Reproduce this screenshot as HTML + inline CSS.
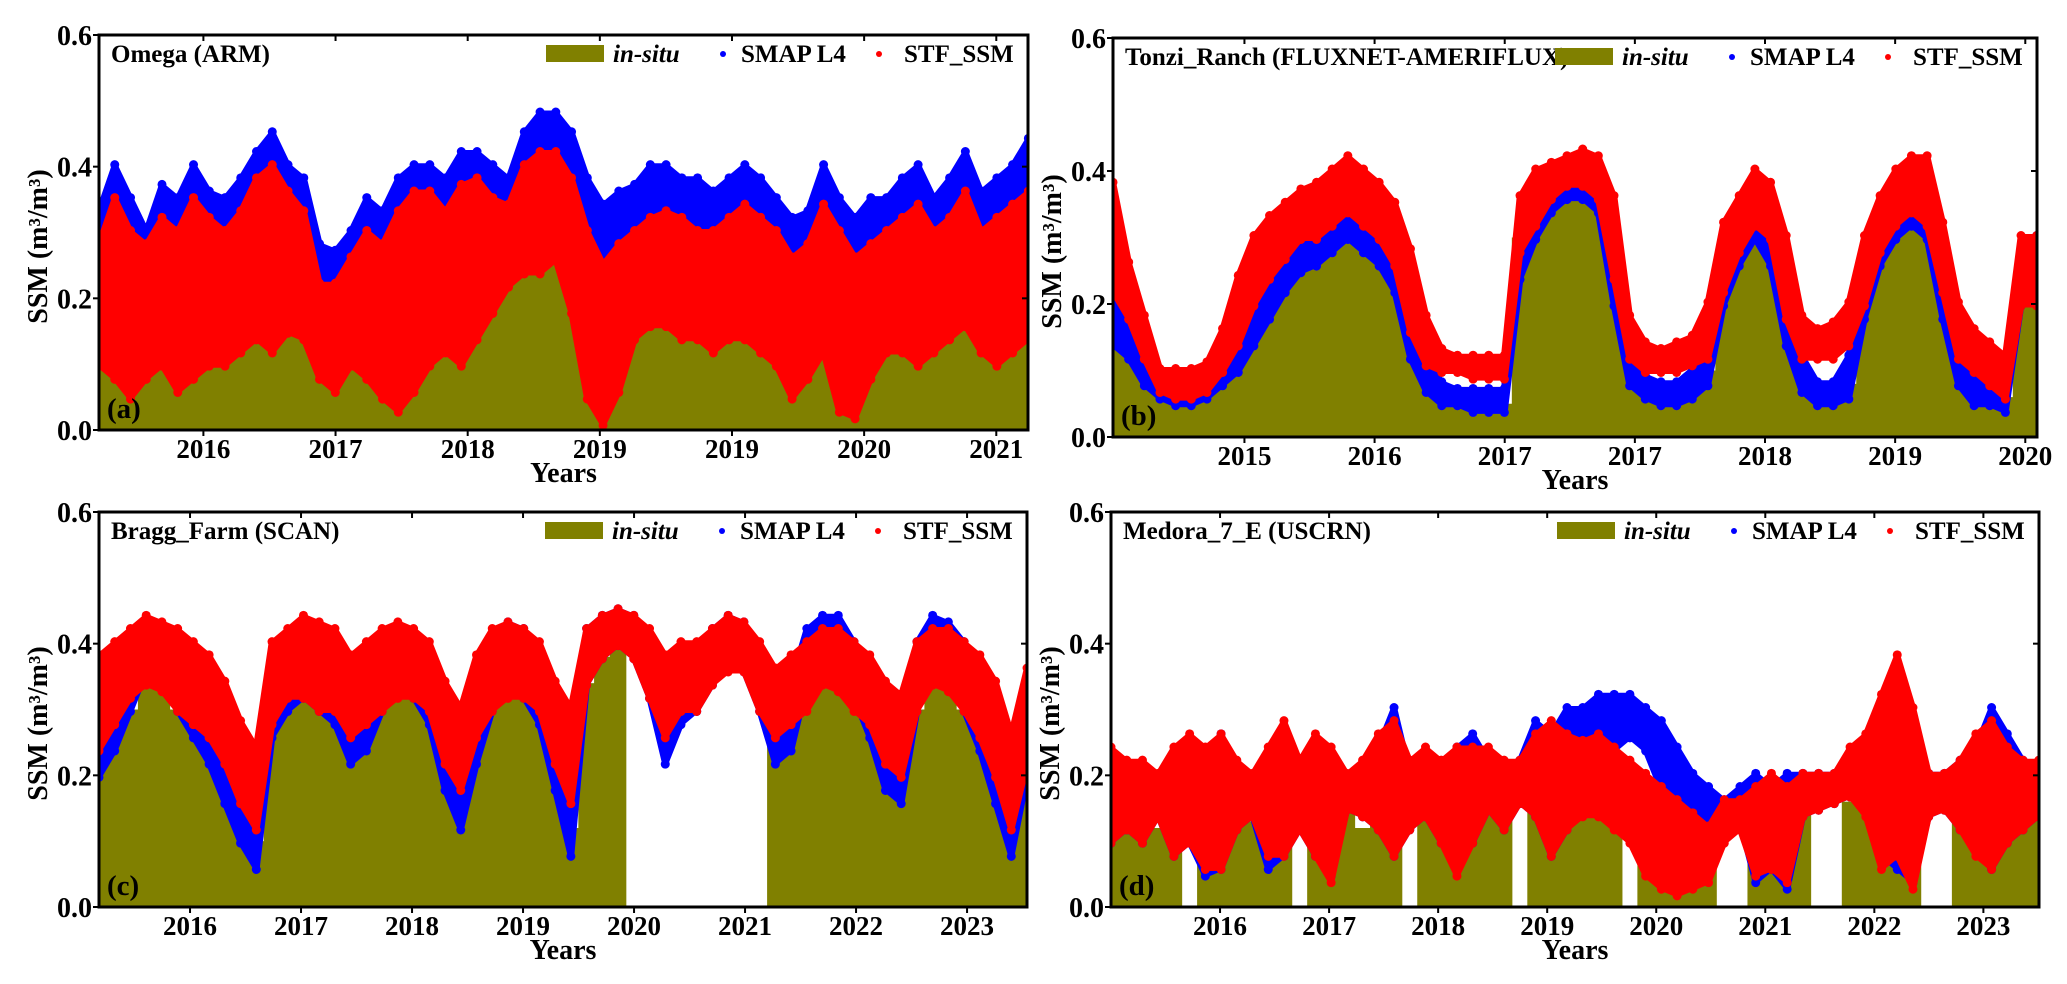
<!DOCTYPE html>
<html><head><meta charset="utf-8"><title>SSM time series</title>
<style>
html,body{margin:0;padding:0;background:#fff;}
svg{display:block;font-family:"Liberation Serif",serif;font-weight:bold;}
</style></head>
<body>
<svg id="fig" xmlns="http://www.w3.org/2000/svg" width="2067" height="984" viewBox="0 0 2067 984"></svg>
<script>
// ---------- Panel (a) Omega (ARM) ----------
const aStart = 2015.21, aStep = 0.1192;
const aTickVals = [2016,2017,2018,2019,2020,2021,2022];
const aTickLabels = ["2016","2017","2018","2019","2019","2020","2021"];
const aInsitu = [0.18,0.15,0.13,0.15,0.17,0.13,0.15,0.16,0.18,0.17,0.19,0.21,0.23,0.25,0.13,0.15,0.19,0.17,0.13,0.08,0.10,0.15,0.17,0.13,0.19,0.25,0.31,0.33,0.35,0.36,0.32,0.14,0.05,0.12,0.23,0.25,0.27,0.25,0.23,0.21,0.25,0.23,0.21,0.17,0.12,0.15,0.19,0.08,0.06,0.15,0.19,0.21,0.17,0.19,0.21,0.23,0.19,0.17,0.19,0.21];
const aSmapHi = [0.33,0.40,0.35,0.30,0.37,0.35,0.40,0.36,0.35,0.38,0.42,0.45,0.40,0.38,0.28,0.27,0.30,0.35,0.33,0.38,0.40,0.40,0.38,0.42,0.42,0.40,0.38,0.45,0.48,0.48,0.45,0.38,0.34,0.36,0.37,0.40,0.40,0.38,0.38,0.36,0.38,0.40,0.38,0.35,0.32,0.33,0.40,0.35,0.32,0.35,0.35,0.38,0.40,0.35,0.38,0.42,0.36,0.38,0.40,0.44];
const aSmapLo = [0.18,0.15,0.12,0.15,0.16,0.14,0.15,0.18,0.16,0.18,0.20,0.20,0.22,0.20,0.16,0.14,0.16,0.15,0.10,0.06,0.10,0.16,0.18,0.15,0.20,0.24,0.28,0.30,0.30,0.32,0.26,0.12,0.05,0.12,0.20,0.22,0.22,0.20,0.20,0.18,0.20,0.20,0.18,0.15,0.10,0.14,0.18,0.08,0.06,0.14,0.18,0.18,0.16,0.18,0.20,0.22,0.18,0.16,0.18,0.20];
const aStfHi = [0.28,0.35,0.30,0.28,0.32,0.30,0.35,0.32,0.30,0.33,0.38,0.40,0.36,0.33,0.22,0.22,0.26,0.30,0.28,0.33,0.36,0.36,0.33,0.37,0.38,0.35,0.34,0.40,0.42,0.42,0.38,0.30,0.25,0.28,0.30,0.32,0.33,0.32,0.30,0.30,0.32,0.34,0.32,0.30,0.26,0.28,0.34,0.30,0.26,0.28,0.30,0.32,0.34,0.30,0.32,0.36,0.30,0.32,0.34,0.36];
const aStfLo = [0.10,0.08,0.05,0.08,0.10,0.06,0.08,0.10,0.10,0.12,0.14,0.12,0.15,0.14,0.08,0.06,0.10,0.08,0.05,0.03,0.06,0.10,0.12,0.10,0.14,0.18,0.22,0.24,0.24,0.26,0.18,0.05,0.01,0.06,0.14,0.16,0.16,0.14,0.14,0.12,0.14,0.14,0.12,0.10,0.05,0.08,0.12,0.03,0.02,0.08,0.12,0.12,0.10,0.12,0.14,0.16,0.12,0.10,0.12,0.14];

// ---------- Panel (b) Tonzi_Ranch ----------
const bStart = 2013.99, bStep = 0.1203;
const bTickVals = [2015,2016,2017,2018,2019,2020,2021];
const bTickLabels = ["2015","2016","2017","2017","2018","2019","2020"];
const bInsitu = [0.16,0.14,0.10,0.07,0.06,0.06,0.07,0.09,0.12,0.18,0.22,0.25,0.28,0.30,0.32,0.34,0.32,0.30,0.28,0.20,0.10,0.06,0.06,0.05,0.05,0.05,0.30,0.35,0.38,0.40,0.40,0.38,0.30,0.12,0.07,0.06,0.06,0.07,0.10,0.25,0.30,0.34,0.30,0.20,0.10,0.07,0.06,0.08,0.22,0.30,0.34,0.38,0.36,0.25,0.12,0.07,0.06,0.06,0.22,0.22];
const bSmapLo = [0.14,0.12,0.08,0.06,0.05,0.05,0.06,0.08,0.10,0.14,0.18,0.22,0.25,0.26,0.28,0.30,0.28,0.26,0.22,0.12,0.07,0.05,0.05,0.04,0.04,0.04,0.24,0.30,0.34,0.36,0.36,0.34,0.20,0.08,0.06,0.05,0.05,0.06,0.08,0.20,0.26,0.30,0.26,0.14,0.07,0.05,0.05,0.06,0.18,0.26,0.30,0.32,0.30,0.18,0.08,0.05,0.05,0.04,0.20,0.22];
const bSmapHi = [0.25,0.18,0.12,0.09,0.08,0.08,0.09,0.12,0.16,0.22,0.26,0.28,0.30,0.32,0.34,0.36,0.34,0.32,0.30,0.22,0.12,0.08,0.07,0.07,0.07,0.07,0.32,0.36,0.38,0.40,0.41,0.40,0.32,0.14,0.09,0.08,0.08,0.10,0.16,0.28,0.32,0.36,0.33,0.22,0.12,0.08,0.08,0.12,0.26,0.32,0.36,0.38,0.38,0.28,0.14,0.10,0.09,0.10,0.28,0.30];
const bStfLo = [0.22,0.18,0.12,0.07,0.06,0.06,0.07,0.10,0.14,0.20,0.24,0.27,0.30,0.30,0.32,0.34,0.32,0.30,0.26,0.16,0.11,0.10,0.10,0.09,0.09,0.09,0.28,0.32,0.36,0.38,0.38,0.36,0.24,0.12,0.10,0.10,0.10,0.11,0.12,0.22,0.28,0.32,0.30,0.18,0.12,0.12,0.12,0.14,0.20,0.28,0.32,0.34,0.32,0.22,0.12,0.10,0.08,0.06,0.20,0.20];
const bStfHi = [0.38,0.26,0.18,0.10,0.10,0.10,0.11,0.16,0.24,0.30,0.33,0.35,0.37,0.38,0.40,0.42,0.40,0.38,0.35,0.28,0.18,0.13,0.12,0.12,0.12,0.12,0.36,0.40,0.41,0.42,0.43,0.42,0.36,0.18,0.14,0.13,0.14,0.15,0.20,0.32,0.36,0.40,0.38,0.30,0.18,0.16,0.17,0.20,0.30,0.36,0.40,0.42,0.42,0.32,0.20,0.16,0.14,0.12,0.30,0.30];

// ---------- Panel (c) Bragg_Farm ----------
const cStart = 2015.18, cStep = 0.1417;
const cTickVals = [2016,2017,2018,2019,2020,2021,2022,2023];
const cTickLabels = ["2016","2017","2018","2019","2020","2021","2022","2023"];
const cInsitu = [0.22,0.26,0.30,0.34,0.33,0.30,0.28,0.24,0.20,0.14,0.10,0.30,0.33,0.34,0.33,0.30,0.26,0.28,0.32,0.34,0.33,0.30,0.22,0.16,0.26,0.32,0.34,0.33,0.30,0.22,0.12,0.34,0.38,0.40,0,0,0,0,0,0,0,0,0,0.26,0.28,0.32,0.35,0.34,0.32,0.28,0.22,0.20,0.30,0.34,0.33,0.30,0.26,0.20,0.12,0.22];
const cSmapLo = [0.20,0.24,0.30,0.36,0.34,0.30,0.26,0.22,0.16,0.10,0.06,0.26,0.30,0.32,0.30,0.28,0.22,0.24,0.30,0.34,0.32,0.28,0.18,0.12,0.22,0.30,0.34,0.32,0.28,0.18,0.08,0.34,0.38,0.40,0.38,0.32,0.22,0.28,0.30,0.34,0.38,0.36,0.30,0.22,0.24,0.34,0.38,0.37,0.32,0.26,0.18,0.16,0.30,0.38,0.36,0.30,0.24,0.16,0.08,0.20];
const cSmapHi = [0.33,0.36,0.38,0.43,0.42,0.40,0.36,0.32,0.28,0.20,0.16,0.36,0.40,0.42,0.40,0.38,0.34,0.36,0.40,0.42,0.40,0.38,0.30,0.22,0.34,0.40,0.43,0.42,0.38,0.30,0.20,0.42,0.44,0.45,0.44,0.40,0.34,0.36,0.38,0.42,0.44,0.43,0.38,0.32,0.34,0.42,0.44,0.44,0.40,0.36,0.30,0.26,0.40,0.44,0.43,0.40,0.34,0.28,0.18,0.30];
const cStfLo = [0.24,0.28,0.32,0.34,0.33,0.30,0.28,0.26,0.22,0.16,0.12,0.28,0.32,0.32,0.30,0.30,0.26,0.28,0.30,0.32,0.32,0.30,0.22,0.18,0.26,0.30,0.32,0.32,0.30,0.22,0.16,0.34,0.38,0.40,0.38,0.32,0.26,0.30,0.30,0.34,0.36,0.36,0.30,0.26,0.28,0.30,0.34,0.33,0.30,0.28,0.22,0.20,0.30,0.34,0.33,0.30,0.26,0.20,0.12,0.22];
const cStfHi = [0.38,0.40,0.42,0.44,0.43,0.42,0.40,0.38,0.34,0.28,0.24,0.40,0.42,0.44,0.43,0.42,0.38,0.40,0.42,0.43,0.42,0.40,0.34,0.30,0.38,0.42,0.43,0.42,0.40,0.34,0.30,0.42,0.44,0.45,0.44,0.42,0.38,0.40,0.40,0.42,0.44,0.43,0.40,0.36,0.38,0.40,0.42,0.42,0.40,0.38,0.34,0.32,0.40,0.42,0.42,0.40,0.38,0.34,0.26,0.36];

// ---------- Panel (d) Medora_7_E ----------
const dStart = 2015.0, dStep = 0.1442;
const dTickVals = [2016,2017,2018,2019,2020,2021,2022,2023];
const dTickLabels = ["2016","2017","2018","2019","2020","2021","2022","2023"];
const dInsitu = [0.15,0.12,0.14,0.12,0.10,0,0.14,0.12,0.15,0.13,0.12,0.14,0,0.14,0.16,0.15,0.12,0.18,0.14,0,0.16,0.14,0.18,0.15,0.20,0.16,0,0.18,0.20,0.22,0.18,0.20,0.16,0,0.16,0.18,0.12,0.10,0.14,0,0,0.12,0.10,0.14,0.15,0,0,0.16,0.20,0.22,0.25,0.18,0,0,0.14,0.16,0.20,0.18,0.15,0.16];
const dSmapLo = [0.10,0.12,0.10,0.14,0.08,0.10,0.05,0.06,0.12,0.14,0.06,0.08,0.12,0.08,0.05,0.15,0.14,0.12,0.08,0.12,0.14,0.10,0.06,0.10,0.15,0.12,0.16,0.14,0.08,0.12,0.16,0.20,0.24,0.26,0.24,0.18,0.12,0.08,0.06,0.12,0.13,0.04,0.06,0.03,0.14,0.15,0.16,0.17,0.16,0.08,0.06,0.04,0.14,0.15,0.12,0.10,0.06,0.10,0.12,0.14];
const dSmapHi = [0.22,0.20,0.20,0.18,0.22,0.24,0.22,0.26,0.20,0.18,0.22,0.26,0.20,0.24,0.22,0.19,0.20,0.24,0.30,0.20,0.22,0.20,0.24,0.26,0.22,0.20,0.22,0.28,0.26,0.30,0.30,0.32,0.32,0.32,0.30,0.28,0.24,0.20,0.18,0.16,0.18,0.20,0.18,0.20,0.20,0.20,0.20,0.22,0.24,0.30,0.30,0.24,0.20,0.20,0.22,0.24,0.30,0.26,0.22,0.20];
const dStfLo = [0.10,0.12,0.10,0.14,0.08,0.10,0.06,0.06,0.12,0.14,0.08,0.08,0.12,0.08,0.04,0.15,0.14,0.12,0.08,0.12,0.14,0.10,0.05,0.10,0.15,0.12,0.16,0.14,0.08,0.12,0.14,0.14,0.12,0.10,0.05,0.03,0.02,0.03,0.04,0.10,0.12,0.05,0.06,0.04,0.14,0.15,0.16,0.17,0.14,0.06,0.08,0.03,0.14,0.15,0.12,0.08,0.06,0.10,0.12,0.14];
const dStfHi = [0.24,0.22,0.22,0.20,0.24,0.26,0.24,0.26,0.22,0.20,0.24,0.28,0.22,0.26,0.24,0.20,0.22,0.26,0.28,0.22,0.24,0.22,0.24,0.24,0.24,0.22,0.22,0.26,0.28,0.26,0.25,0.26,0.24,0.22,0.20,0.18,0.16,0.14,0.12,0.16,0.16,0.18,0.20,0.18,0.20,0.20,0.20,0.24,0.26,0.32,0.38,0.30,0.20,0.20,0.22,0.26,0.28,0.24,0.22,0.22];

const yTickVals = [0.0,0.2,0.4,0.6];
const yTickLabels = ["0.0","0.2","0.4","0.6"];

const NS = "http://www.w3.org/2000/svg";
const svg = document.getElementById("fig");
function mk(tag, attrs, parent){
  const e = document.createElementNS(NS, tag);
  for (const k in attrs) e.setAttribute(k, attrs[k]);
  (parent || svg).appendChild(e);
  return e;
}
const OLIVE="#808000", BLUE="#0000ff", RED="#ff0000";

function drawPanel(p){
  const g = mk("g", {});
  
  
  const xs = v => p.L + (v - p.d0) / (p.d1 - p.d0) * (p.R - p.L);
  const ys = v => p.B - v / 0.6 * (p.B - p.T);
  const clipId = "clip-" + p.id;
  const cp = mk("clipPath", {id: clipId}, g);
  mk("rect", {x:p.L, y:p.T, width:p.R-p.L, height:p.B-p.T}, cp);
  const plot = mk("g", {"clip-path":"url(#"+clipId+")"}, g);
  
  

  const n = p.insitu.length;
  const bw = (xs(p.start + p.step) - xs(p.start)) + 0.8;
  const insituG = mk("g", {}, plot);
  
  
  for (let i=0;i<n;i++){
    const v = p.insitu[i];
    if (v <= 0) continue;
    const xc = xs(p.start + i*p.step);
    const r = mk("rect", {x:xc-bw/2, y:ys(v), width:bw, height:ys(0)-ys(v), fill:OLIVE}, insituG);
    
    
  }
  function band(lo, hi, color, name){
    const sg = mk("g", {}, plot);
    
    
    let pts = [];
    for (let i=0;i<hi.length;i++) pts.push(xs(p.start+i*p.step).toFixed(1)+","+ys(hi[i]).toFixed(1));
    for (let i=lo.length-1;i>=0;i--) pts.push(xs(p.start+i*p.step).toFixed(1)+","+ys(lo[i]).toFixed(1));
    const poly = mk("polygon", {points:pts.join(" "), fill:color, stroke:color, "stroke-width":7, "stroke-linejoin":"round"}, sg);
    
    
    for (let i=0;i<hi.length;i++){
      const x = xs(p.start+i*p.step);
      const c1 = mk("circle", {cx:x, cy:ys(hi[i])-2, r:4.5, fill:color}, sg);
      
      
      const c2 = mk("circle", {cx:x, cy:ys(lo[i])+2, r:4.5, fill:color}, sg);
      
      
    }
  }
  band(p.smapLo, p.smapHi, BLUE, "smap-l4-series");
  band(p.stfLo, p.stfHi, RED, "stf-ssm-series");

  const fr = mk("rect", {x:p.L, y:p.T, width:p.R-p.L, height:p.B-p.T, fill:"none", stroke:"#000", "stroke-width":3}, g);
  
  

  for (let i=0;i<p.tickVals.length;i++){
    const x = xs(p.tickVals[i]);
    if (x < p.L-1 || x > p.R+1) continue;
    mk("line", {x1:x, x2:x, y1:p.B, y2:p.B+6, stroke:"#000", "stroke-width":2}, g);
    mk("line", {x1:x, x2:x, y1:p.T, y2:p.T+6, stroke:"#000", "stroke-width":2}, g);
    const t = mk("text", {x:x, y:p.B+28, "font-size":27, "text-anchor":"middle", fill:"#000"}, g);
    t.textContent = p.tickLabels[i];
    
    
  }
  for (let i=0;i<yTickVals.length;i++){
    const y = ys(yTickVals[i]);
    mk("line", {x1:p.L-6, x2:p.L, y1:y, y2:y, stroke:"#000", "stroke-width":2}, g);
    mk("line", {x1:p.R-6, x2:p.R, y1:y, y2:y, stroke:"#000", "stroke-width":2}, g);
    const t = mk("text", {x:p.L-7, y:y+10, "font-size":28, "text-anchor":"end", fill:"#000"}, g);
    t.textContent = yTickLabels[i];
    
    
  }
  const yt = mk("text", {x:0, y:0, "font-size":28, "text-anchor":"middle", fill:"#000",
    transform:"translate("+(p.L-52)+","+((p.T+p.B)/2+14)+") rotate(-90)"}, g);
  yt.textContent = "SSM (m³/m³)";
  
  
  const xt = mk("text", {x:(p.L+p.R)/2, y:p.B+52, "font-size":28, "text-anchor":"middle", fill:"#000"}, g);
  xt.textContent = "Years";
  
  

  const tt = mk("text", {x:p.L+12, y:p.T+27, "font-size":25, fill:"#000"}, g);
  tt.textContent = p.title;
  
  
  const pl = mk("text", {x:p.L+8, y:p.B-12, "font-size":29, fill:"#000"}, g);
  pl.textContent = "(" + p.id + ")";
  
  

  const R = p.R, ly = p.T + 27;
  const lg = mk("g", {}, g);
  
  
  const lr = mk("rect", {x:R-482, y:ly-17, width:58, height:17, fill:OLIVE}, lg);
  
  
  const l1 = mk("text", {x:R-415, y:ly, "font-size":25, "font-style":"italic", fill:"#000"}, lg);
  l1.textContent = "in-situ";
  
  
  const d1 = mk("circle", {cx:R-305, cy:ly-8, r:3, fill:BLUE}, lg);
  
  
  const l2 = mk("text", {x:R-287, y:ly, "font-size":25, fill:"#000"}, lg);
  l2.textContent = "SMAP L4";
  
  
  const d2 = mk("circle", {cx:R-149, cy:ly-8, r:3, fill:RED}, lg);
  
  
  const l3 = mk("text", {x:R-124, y:ly, "font-size":25, fill:"#000"}, lg);
  l3.textContent = "STF_SSM";
  
  
}

drawPanel({id:"a", title:"Omega (ARM)", L:99, R:1028, T:35, B:430, d0:2015.21, d1:2022.24,
  start:aStart, step:aStep, tickVals:aTickVals, tickLabels:aTickLabels,
  insitu:aInsitu, smapLo:aSmapLo, smapHi:aSmapHi, stfLo:aStfLo, stfHi:aStfHi});
drawPanel({id:"b", title:"Tonzi_Ranch (FLUXNET-AMERIFLUX)", L:1113, R:2037, T:38, B:437, d0:2013.99, d1:2021.09,
  start:bStart, step:bStep, tickVals:bTickVals, tickLabels:bTickLabels,
  insitu:bInsitu, smapLo:bSmapLo, smapHi:bSmapHi, stfLo:bStfLo, stfHi:bStfHi});
drawPanel({id:"c", title:"Bragg_Farm (SCAN)", L:99, R:1027, T:512, B:907, d0:2015.18, d1:2023.54,
  start:cStart, step:cStep, tickVals:cTickVals, tickLabels:cTickLabels,
  insitu:cInsitu, smapLo:cSmapLo, smapHi:cSmapHi, stfLo:cStfLo, stfHi:cStfHi});
drawPanel({id:"d", title:"Medora_7_E (USCRN)", L:1111, R:2039, T:512, B:907, d0:2015.0, d1:2023.51,
  start:dStart, step:dStep, tickVals:dTickVals, tickLabels:dTickLabels,
  insitu:dInsitu, smapLo:dSmapLo, smapHi:dSmapHi, stfLo:dStfLo, stfHi:dStfHi});
</script>
</body></html>
